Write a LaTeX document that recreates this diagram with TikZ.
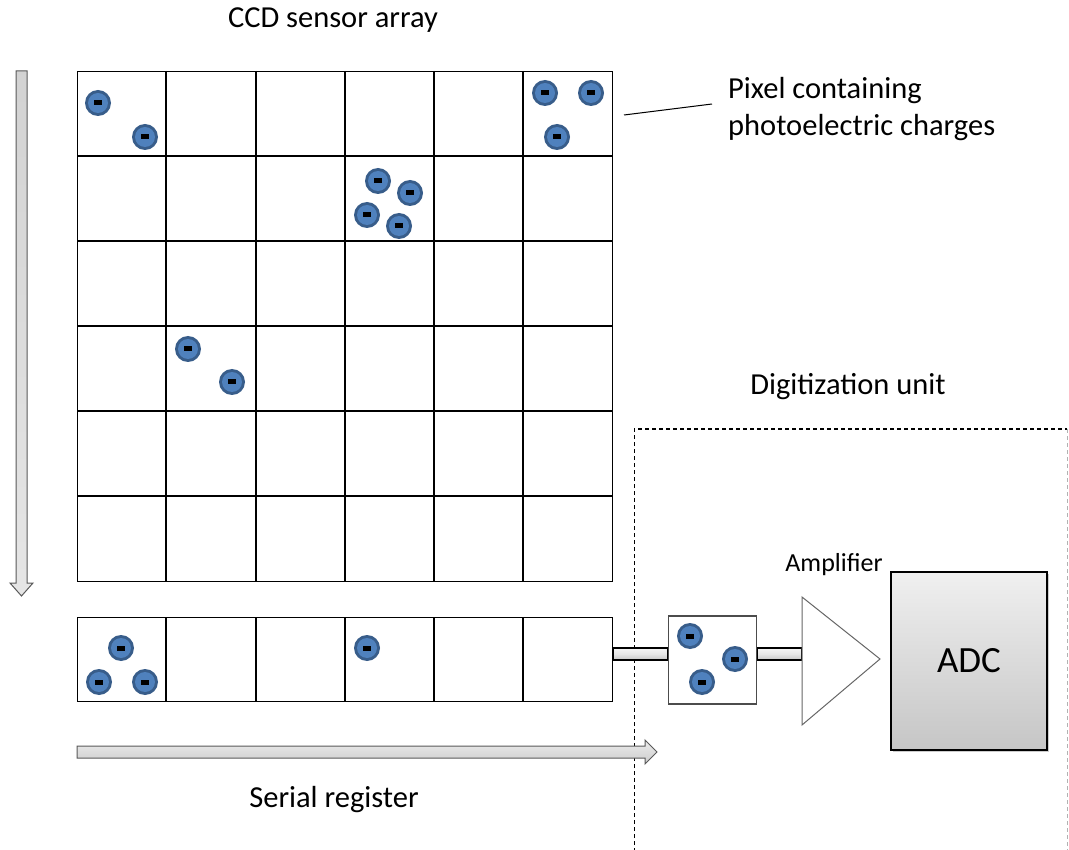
\documentclass[tikz,border=0pt]{standalone}
\usepackage{fontspec}
\setmainfont{Carlito}
\usetikzlibrary{shadows}
\definecolor{elight}{HTML}{4F81BD}
\definecolor{edark}{HTML}{385D8A}
\tikzset{
  electron/.pic={
    \fill[edark] (0,0) circle (13);
    \fill[elight] (0,0) circle (10);
    \fill[black] (-4,-2.5) rectangle (4,2.5);
  },
  gridline/.style={line width=1.4pt, black},
  lbl/.style={font=\fontsize{30.5}{37}\selectfont, inner sep=0pt},
  pipe/.style={draw=black, line width=1.2pt, top color=gray!8, bottom color=gray!45, middle color=gray!20},
  blockarrow/.style={draw=gray!70!black, line width=1pt, left color=gray!35, right color=gray!15},
  dash4/.style={dash pattern=on 4pt off 3pt, line width=1pt},
}
\begin{document}
\begin{tikzpicture}[x=1pt,y=-1pt]
\useasboundingbox (0,0) rectangle (1069,850);
% sensor grid
\node[draw, gridline, minimum width=535, minimum height=510, inner sep=0, anchor=north west] (ccd) at (77,71) {};
\foreach \x in {166,256,345,434,523} \draw[gridline] (\x,71) -- (\x,581);
\foreach \y in {156,241,326,411,496} \draw[gridline] (77,\y) -- (612,\y);
% serial register
\node[draw, gridline, minimum width=535, minimum height=84, inner sep=0, anchor=north west] (reg) at (77,617) {};
\foreach \x in {166,256,345,434,523} \draw[gridline] (\x,617) -- (\x,701);
% electrons in grid
\foreach \p in {(98,103),(145,137),(545,93),(591,93),(557,137),(378,181),(410,193),(367,215),(399,226),(188,349),(232,382),(121,648),(99,682),(145,682),(367,648)}
  \pic at \p {electron};
% dashed digitization box
\draw[dash4] (634,852) -- (634,429) -- (1067,429);
\draw[dash4, gray!60] (1067,429) -- (1067,852);
% output box
\node[draw=gray!60!black, line width=1.2pt, minimum width=88, minimum height=88, inner sep=0, fill=white] (obox) at (712.5,660) {};
\path[pipe] (reg.east |- 0,648) rectangle (obox.west |- 0,660);
\node[draw=gray!60!black, line width=1.2pt, minimum width=88, minimum height=88, inner sep=0] at (obox) {};
\foreach \p in {(690,636),(735,659),(702,682)} \pic at \p {electron};
% amplifier
\coordinate (amp) at (802,659);
\path[pipe] (obox.east |- 0,648) rectangle (amp |- 0,660);
\draw[gray!80!black, line width=1pt, fill=white] (802,597) -- (880,659) -- (802,725) -- cycle;
\node[font=\fontsize{26}{31}\selectfont, inner sep=0] (ampl) at (834,565) {Amplifier};
% ADC
\node[draw=black, line width=1.2pt, minimum width=156, minimum height=178, inner sep=0,
  top color=gray!12, bottom color=gray!45, drop shadow={shadow xshift=2pt, shadow yshift=-2pt, opacity=0.4},
  font=\fontsize{37}{44}\selectfont] (adc) at (969,661) {ADC};
% arrows
\path[blockarrow, top color=gray!35, bottom color=gray!20] (16,71) -- (27,71) -- (27,583) -- (33,583) -- (21.5,596) -- (10,583) -- (16,583) -- cycle;
\path[blockarrow, top color=gray!15, bottom color=gray!40] (77,746) -- (645,746) -- (645,740) -- (657,752) -- (645,764) -- (645,758) -- (77,758) -- cycle;
% labels
\node[lbl] (t1) at (333,20) {CCD sensor array};
\node[lbl, align=left, anchor=west] (t2) at (728,109) {Pixel containing\\photoelectric charges};
\coordinate (pix) at (624,115);
\draw[line width=1pt] (pix) -- (712,104);
\node[lbl] (t3) at (848,387) {Digitization unit};
\node[lbl] (t4) at (334,800) {Serial register};
\end{tikzpicture}
\end{document}
